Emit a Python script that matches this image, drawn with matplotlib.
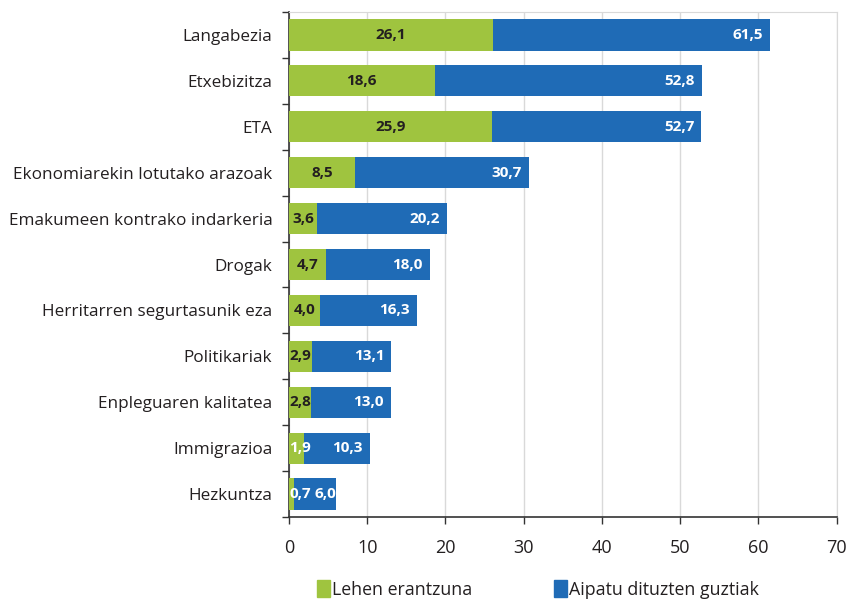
import numpy as np
import matplotlib
matplotlib.use('Agg')
import matplotlib.pyplot as plt
import matplotlib.patches as mpatches


CATEGORIES = [
    'Langabezia', 'Etxebizitza', 'ETA', 'Ekonomiarekin lotutako arazoak',
    'Emakumeen kontrako indarkeria', 'Drogak', 'Herritarren segurtasunik eza',
    'Politikariak', 'Enpleguaren kalitatea', 'Immigrazioa', 'Hezkuntza',
]
FIRST_ANSWER = [26.1, 18.6, 25.9, 8.5, 3.6, 4.7, 4.0, 2.9, 2.8, 1.9, 0.7]
ALL_MENTIONS = [61.5, 52.8, 52.7, 30.7, 20.2, 18.0, 16.3, 13.1, 13.0, 10.3, 6.0]
X_TICKS = [0, 10, 20, 30, 40, 50, 60, 70]

GREEN = '#9fc43f'
BLUE = '#1f6bb6'
TEXT = '#231f20'

plt.rcParams['font.family'] = ['Open Sans', 'DejaVu Sans']


def fmt(v):
    return f'{v:.1f}'.replace('.', ',')


fig = plt.figure(figsize=(8.47, 6.0), dpi=100)
ax = fig.add_axes([0.3412, 0.1383, 0.6466, 0.8417])

y = np.arange(len(CATEGORIES))
ax.barh(y, ALL_MENTIONS, height=0.68, color=BLUE, zorder=2)
ax.barh(y, FIRST_ANSWER, height=0.68, color=GREEN, zorder=3)

for yi, first, total in zip(y, FIRST_ANSWER, ALL_MENTIONS):
    # green labels: centred, but never closer than the left edge allows
    xc = max(first / 2, 1.4)
    col = 'white' if first < 2.5 else TEXT
    ax.text(xc, yi, fmt(first), ha='center', va='center', color=col,
            fontsize=11, fontweight='bold', zorder=4)
    pad = 0.0 if total < 8 else 0.9
    ax.text(total - pad, yi, fmt(total), ha='right', va='center', color='white',
            fontsize=11, fontweight='bold', zorder=4)

ax.set_xlim(0, 70)
ax.set_ylim(len(CATEGORIES) - 0.5, -0.5)
ax.set_xticks(X_TICKS)
ax.set_xticklabels([str(t) for t in X_TICKS], fontsize=13, color=TEXT)
ax.tick_params(axis='x', length=5, width=1, color='#333333', pad=11)

ax.set_yticks(y)
ax.set_yticklabels(CATEGORIES, fontsize=12.3, color=TEXT)
ax.tick_params(axis='y', length=0, pad=12)
ax.set_yticks(np.arange(len(CATEGORIES) + 1) - 0.5, minor=True)
ax.tick_params(axis='y', which='minor', length=5, width=1, color='#333333')

ax.grid(axis='x', color='#d9d9d9', linewidth=1, zorder=0)
ax.set_axisbelow(True)
for side in ['top', 'right']:
    ax.spines[side].set_color('#d9d9d9')
for side in ['left', 'bottom']:
    ax.spines[side].set_color('#333333')
    ax.spines[side].set_linewidth(1.2)

handles = [mpatches.Patch(color=GREEN, label='Lehen erantzuna'),
           mpatches.Patch(color=BLUE, label='Aipatu dituzten guztiak')]
fig.legend(handles=handles, loc='upper left', bbox_to_anchor=(0.366, 0.045),
           ncol=2, frameon=False, fontsize=12.8, handlelength=0.7, handleheight=1.1,
           handletextpad=0.15, columnspacing=4.6, labelcolor=TEXT, borderaxespad=0)

fig.savefig('out.png', dpi=100)
